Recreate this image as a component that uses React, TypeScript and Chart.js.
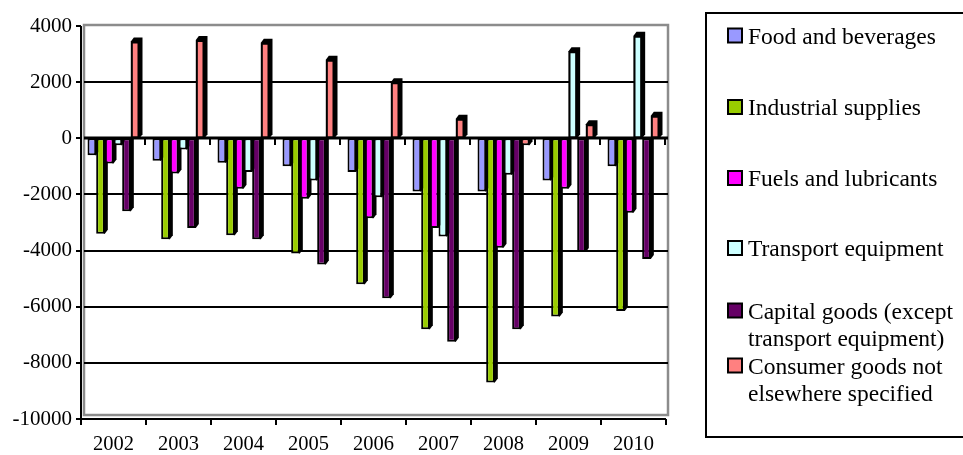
import { useEffect, useRef } from "react";
import { Chart, registerables } from "chart.js";

Chart.register(...registerables);

// Trade balance by end-use category, 2002–2010
const years = ["2002", "2003", "2004", "2005", "2006", "2007", "2008", "2009", "2010"];

const foodAndBeverages = [-600, -800, -870, -1000, -1200, -1900, -1900, -1500, -1000];
const industrialSupplies = [-3400, -3600, -3450, -4100, -5200, -6800, -8700, -6350, -6150];
const fuelsAndLubricants = [-900, -1250, -1800, -2150, -2850, -3200, -3900, -1800, -2650];
const transportEquipment = [-250, -400, -1200, -1500, -2100, -3500, -1300, 3100, 3650];
const capitalGoods = [-2600, -3200, -3600, -4500, -5700, -7250, -6800, -4050, -4300];
const consumerGoods = [3450, 3500, 3400, 2800, 2000, 700, -250, 500, 800];

const seriesLines = [
  ["Food and beverages"],
  ["Industrial supplies"],
  ["Fuels and lubricants"],
  ["Transport equipment"],
  ["Capital goods (except", "transport equipment)"],
  ["Consumer goods not", "elsewhere specified"],
];
const seriesValues = [
  foodAndBeverages,
  industrialSupplies,
  fuelsAndLubricants,
  transportEquipment,
  capitalGoods,
  consumerGoods,
];
const seriesColors = ["#9999FF", "#99CC00", "#FF00FF", "#CCFFFF", "#660066", "#FF8080"];

const yTicks = [4000, 2000, 0, -2000, -4000, -6000, -8000, -10000];

const FONT = "'Liberation Serif', 'Times New Roman', serif";
const DEPTH_X = 3;
const DEPTH_Y = 4;

// Legend rows: baseline of the first line of each entry
const legendBaselines = [43.5, 115, 186, 256, 318.5, 373.5];
const legendLineGap = 27;

const framePlugin = {
  id: "frame3d",
  beforeDatasetsDraw(chart: any) {
    const { ctx, chartArea: a, scales } = chart;
    const ys = scales.y;
    const xs = scales.x;
    const n = years.length;
    ctx.save();

    // back wall
    const wl = a.left + 3;
    const wr = a.right + 2;
    const wt = a.top - 1;
    const wb = a.bottom - 4;
    ctx.fillStyle = "#ffffff";
    ctx.fillRect(wl, wt, wr - wl, wb - wt);
    ctx.strokeStyle = "#8c8c8c";
    ctx.lineWidth = 2.5;
    ctx.strokeRect(wl, wt, wr - wl, wb - wt);

    // horizontal gridlines on the wall
    ctx.strokeStyle = "#000";
    const maxV = yTicks[0];
    const minV = yTicks[yTicks.length - 1];
    for (const v of yTicks) {
      if (v === maxV || v === minV) continue;
      const py = Math.round(ys.getPixelForValue(v));
      ctx.lineWidth = v === 0 ? 3 : 2;
      ctx.beginPath();
      ctx.moveTo(wl, py);
      ctx.lineTo(wr, py);
      ctx.stroke();
    }

    // short category marks under the zero line
    const y0 = Math.round(ys.getPixelForValue(0));
    ctx.lineWidth = 2;
    for (let i = 1; i <= n; i++) {
      const px = Math.round(xs.getPixelForValue(i - 0.5)) - 1;
      ctx.beginPath();
      ctx.moveTo(px, y0);
      ctx.lineTo(px, y0 + 7);
      ctx.stroke();
    }

    // value axis with tick marks
    ctx.lineWidth = 2;
    ctx.beginPath();
    ctx.moveTo(a.left, a.top);
    ctx.lineTo(a.left, a.bottom);
    ctx.stroke();
    for (const v of yTicks) {
      const py = Math.round(ys.getPixelForValue(v));
      ctx.beginPath();
      ctx.moveTo(a.left - 5, py);
      ctx.lineTo(a.left, py);
      ctx.stroke();
    }

    // category axis with tick marks
    ctx.beginPath();
    ctx.moveTo(a.left, a.bottom);
    ctx.lineTo(a.right, a.bottom);
    ctx.stroke();
    for (let i = 0; i <= n; i++) {
      const px = Math.round(xs.getPixelForValue(i - 0.5));
      ctx.beginPath();
      ctx.moveTo(px, a.bottom);
      ctx.lineTo(px, a.bottom + 6);
      ctx.stroke();
    }

    // depth of every bar, drawn behind all front faces
    ctx.fillStyle = "#000";
    chart.data.datasets.forEach((_ds: any, i: number) => {
      const meta = chart.getDatasetMeta(i);
      meta.data.forEach((bar: any) => {
        const p = bar.getProps(["x", "y", "base", "width"], true);
        const left = p.x - p.width / 2;
        const right = p.x + p.width / 2;
        const top = Math.min(p.y, p.base);
        const bottom = Math.max(p.y, p.base);
        ctx.beginPath();
        if (p.y <= p.base) {
          // rising bar: top face and side face
          ctx.moveTo(left, top);
          ctx.lineTo(left + DEPTH_X, top - DEPTH_Y);
          ctx.lineTo(right + DEPTH_X, top - DEPTH_Y);
          ctx.lineTo(right + DEPTH_X, bottom - DEPTH_Y);
          ctx.lineTo(right, bottom);
          ctx.lineTo(left, bottom);
        } else {
          // hanging bar: side face only, starting at the zero line
          ctx.moveTo(right - 1, top);
          ctx.lineTo(right + DEPTH_X, top);
          ctx.lineTo(right + DEPTH_X, bottom - DEPTH_Y);
          ctx.lineTo(right, bottom);
          ctx.lineTo(right - 1, bottom);
        }
        ctx.closePath();
        ctx.fill();
      });
    });
    ctx.restore();
  },
  afterDraw(chart: any) {
    const { ctx } = chart;
    ctx.save();
    // legend frame
    ctx.strokeStyle = "#000";
    ctx.lineWidth = 2;
    ctx.strokeRect(706, 13, 270, 424);

    ctx.font = `23.5px ${FONT}`;
    ctx.textAlign = "left";
    ctx.textBaseline = "alphabetic";
    seriesLines.forEach((lines, i) => {
      const base = legendBaselines[i];
      ctx.fillStyle = seriesColors[i];
      ctx.fillRect(728, base - 15, 14, 14);
      ctx.strokeStyle = "#000";
      ctx.lineWidth = 2;
      ctx.strokeRect(728, base - 15, 14, 14);
      ctx.fillStyle = "#000";
      lines.forEach((t, k) => ctx.fillText(t, 748, base + k * legendLineGap));
    });
    ctx.restore();
  },
};

export default function App() {
  const canvasRef = useRef<HTMLCanvasElement | null>(null);

  useEffect(() => {
    document.body.style.margin = "0";
    const canvas = canvasRef.current;
    if (!canvas) return;

    const chart = new Chart(canvas, {
      type: "bar",
      data: {
        labels: years,
        datasets: seriesValues.map((values, i) => ({
          label: seriesLines[i].join(" "),
          data: values,
          backgroundColor: seriesColors[i],
          borderColor: "#000",
          borderWidth: 2,
          borderSkipped: false,
          categoryPercentage: 0.8,
          barPercentage: 1.0,
        })),
      },
      options: {
        responsive: false,
        animation: false,
        devicePixelRatio: 1,
        layout: { padding: { left: 0, right: 297, top: 26, bottom: 0 } },
        plugins: {
          legend: { display: false },
          tooltip: { enabled: false },
          title: { display: false },
        },
        scales: {
          x: {
            type: "category",
            grid: { display: false, drawTicks: false },
            border: { display: false },
            ticks: {
              autoSkip: false,
              maxRotation: 0,
              padding: 13,
              color: "#000",
              font: { family: FONT, size: 20.5 },
            },
            afterFit(scale: any) {
              scale.height = 36;
            },
          },
          y: {
            type: "linear",
            min: yTicks[yTicks.length - 1],
            max: yTicks[0],
            grid: { display: false, drawTicks: false },
            border: { display: false },
            ticks: {
              stepSize: 2000,
              padding: 9,
              color: "#000",
              font: { family: FONT, size: 21 },
              callback: (v: any) => String(v),
            },
            afterFit(scale: any) {
              scale.width = 81;
            },
          },
        },
      },
      plugins: [framePlugin],
    });

    return () => chart.destroy();
  }, []);

  return (
    <div style={{ width: 963, height: 455, background: "#fff" }}>
      <canvas ref={canvasRef} width={963} height={455} />
    </div>
  );
}
